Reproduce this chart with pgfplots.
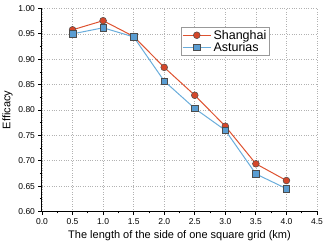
\documentclass[border=0pt]{standalone}
\usepackage{pgfplots}
\pgfplotsset{compat=1.18}
\usepackage{fontspec}
\setmainfont{Liberation Sans}
\definecolor{redline}{HTML}{DE5230}
\definecolor{redfill}{HTML}{D4472A}
\definecolor{blueline}{HTML}{6AADDB}
\definecolor{bluefill}{HTML}{5A9DD2}
\begin{document}
\begin{tikzpicture}
\begin{axis}[
  scale only axis, width=275pt, height=203pt,
  xmin=0, xmax=4.5, ymin=0.6, ymax=1.0,
  axis lines=left, axis line style={-, line width=1pt, black},
  xtick={0,0.5,...,4.5}, ytick={0.60,0.65,...,1.00},
  minor x tick num=1, minor y tick num=1,
  tick align=outside, tick style={black, line width=0.8pt},
  major tick length=3.5pt, minor tick length=2pt,
  xticklabel style={font=\fontsize{8.5}{9}\selectfont},
  yticklabel style={font=\fontsize{8.5}{9}\selectfont},
  /pgf/number format/assume math mode=true,
  xticklabel={\pgfmathprintnumber[fixed,fixed zerofill,precision=1]{\tick}},
  yticklabel={\pgfmathprintnumber[fixed,fixed zerofill,precision=2]{\tick}},
  grid=major, major grid style={gray!60, dotted, line width=0.6pt},
  xlabel={The length of the side of one square grid (km)},
  ylabel={Efficacy},
  label style={font=\fontsize{11}{12}\selectfont},
  xlabel style={yshift=1pt},
  ylabel style={yshift=-1pt},
  legend style={at={(rel axis cs:0.505,0.91)}, anchor=north west,
    font=\fontsize{12.5}{13}\selectfont, draw=gray!80, fill=white,
    inner sep=1pt, row sep=-2.5pt, legend cell align=left},
  legend image code/.code={
    \draw[#1, mark repeat=2, mark phase=2] plot coordinates {(0cm,0cm) (0.5cm,0cm) (1.0cm,0cm)};
  },
]
\addplot[redline, line width=1pt, mark=*, mark size=3.4pt,
  mark options={fill=redfill, draw=black!70, line width=0.5pt}]
  coordinates {(0.5,0.958) (1.0,0.976) (1.5,0.945) (2.0,0.884) (2.5,0.829) (3.0,0.768) (3.5,0.694) (4.0,0.661)};
\addlegendentry{Shanghai}
\addplot[blueline, line width=1pt, mark=square*, mark size=3.2pt,
  mark options={fill=bluefill, draw=black!70, line width=0.5pt}]
  coordinates {(0.5,0.950) (1.0,0.962) (1.5,0.944) (2.0,0.857) (2.5,0.803) (3.0,0.760) (3.5,0.674) (4.0,0.645)};
\addlegendentry{Asturias}
\end{axis}
\pgfresetboundingbox
\path[use as bounding box] (-42pt,-37pt) rectangle (290pt,211.5pt);
\end{tikzpicture}
\end{document}
